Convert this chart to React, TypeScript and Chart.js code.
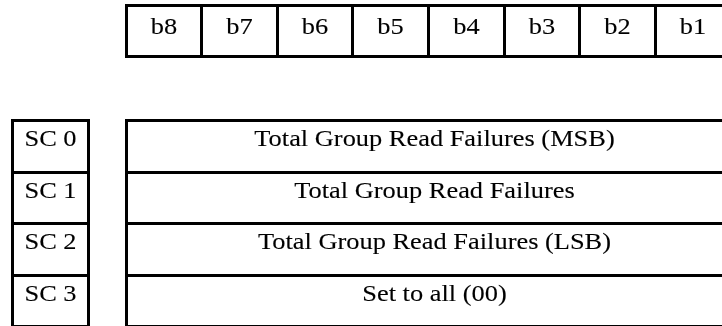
import React, { useEffect, useRef } from 'react';
import { Chart, registerables } from 'chart.js';

Chart.register(...registerables);

// ---- data ----
const bitLabels = ['b8', 'b7', 'b6', 'b5', 'b4', 'b3', 'b2', 'b1'];
const subCodeLabels = ['SC 0', 'SC 1', 'SC 2', 'SC 3'];
const fieldLabels = [
  'Total Group Read Failures (MSB)',
  'Total Group Read Failures',
  'Total Group Read Failures (LSB)',
  'Set to all (00)',
];

// ---- layout (scale units: x = bit columns, y = field rows) ----
const X_MIN = -1.6667;
const X_MAX = 7.8836;
const Y_MIN = -2.3495;
const Y_MAX = 3.9806;
const HEADER_TOP = -2.247;
const HEADER_BOTTOM = -1.255;
const SC_LEFT = -1.5;
const SC_RIGHT = -0.5;
const FIELD_LEFT = 0;
const FIELD_RIGHT = 8.15;

const FONT_PX = 24;
const FONT = `${FONT_PX}px "Liberation Serif"`;
const TEXT_STRETCH = 1.1;
const LINE_W = 3;

const snap = (v: number) => Math.floor(v) + 0.5;

const diagramPlugin = {
  id: 'cdbDiagram',
  afterDraw(chart: any) {
    const { ctx } = chart;
    const xs = chart.scales.x;
    const ys = chart.scales.y;
    const drawCell = (x0: number, x1: number, y0: number, y1: number, label: string, baseOff: number) => {
      const px0 = snap(xs.getPixelForValue(x0));
      const px1 = snap(xs.getPixelForValue(x1));
      const py0 = snap(ys.getPixelForValue(y0));
      const py1 = snap(ys.getPixelForValue(y1));
      ctx.save();
      ctx.strokeStyle = '#000';
      ctx.lineWidth = LINE_W;
      ctx.strokeRect(px0, py0, px1 - px0, py1 - py0);
      ctx.fillStyle = '#000';
      ctx.font = `${FONT}, "Times New Roman", serif`;
      ctx.textAlign = 'center';
      ctx.textBaseline = 'alphabetic';
      ctx.translate((px0 + px1) / 2, py0 + baseOff);
      ctx.scale(TEXT_STRETCH, 1);
      ctx.fillText(label, 0, 0);
      ctx.lineWidth = 0.12;
      ctx.strokeText(label, 0, 0);
      ctx.restore();
    };
    bitLabels.forEach((lab, i) => drawCell(i, i + 1, HEADER_TOP, HEADER_BOTTOM, lab, 28));
    subCodeLabels.forEach((lab, j) => drawCell(SC_LEFT, SC_RIGHT, j, j + 1, lab, 25.5));
    fieldLabels.forEach((lab, j) => drawCell(FIELD_LEFT, FIELD_RIGHT, j, j + 1, lab, 25.5));
  },
};

export default function App() {
  const canvasRef = useRef<HTMLCanvasElement | null>(null);
  useEffect(() => {
    document.body.style.margin = '0';
    const canvas = canvasRef.current;
    if (!canvas) return;
    let chart: Chart | null = null;
    let cancelled = false;
    chart = new Chart(canvas, {
      type: 'scatter',
      data: { datasets: [] },
      options: {
        animation: false,
        responsive: false,
        maintainAspectRatio: false,
        layout: { padding: 0 },
        plugins: { legend: { display: false }, tooltip: { enabled: false } },
        scales: {
          x: { type: 'linear', min: X_MIN, max: X_MAX, display: false },
          y: { type: 'linear', min: Y_MIN, max: Y_MAX, reverse: true, display: false },
        },
      },
      plugins: [diagramPlugin],
    });
    if ((document as any).fonts && (document as any).fonts.load) {
      (document as any).fonts.load(FONT, 'Total b8 SC').then(() => {
        if (!cancelled && chart) chart.draw();
      }).catch(() => {});
    }
    return () => {
      cancelled = true;
      if (chart) chart.destroy();
    };
  }, []);
  return (
    <div style={{ width: 722, height: 326, background: '#fff' }}>
      <canvas ref={canvasRef} width={722} height={326} style={{ display: 'block' }} />
    </div>
  );
}
